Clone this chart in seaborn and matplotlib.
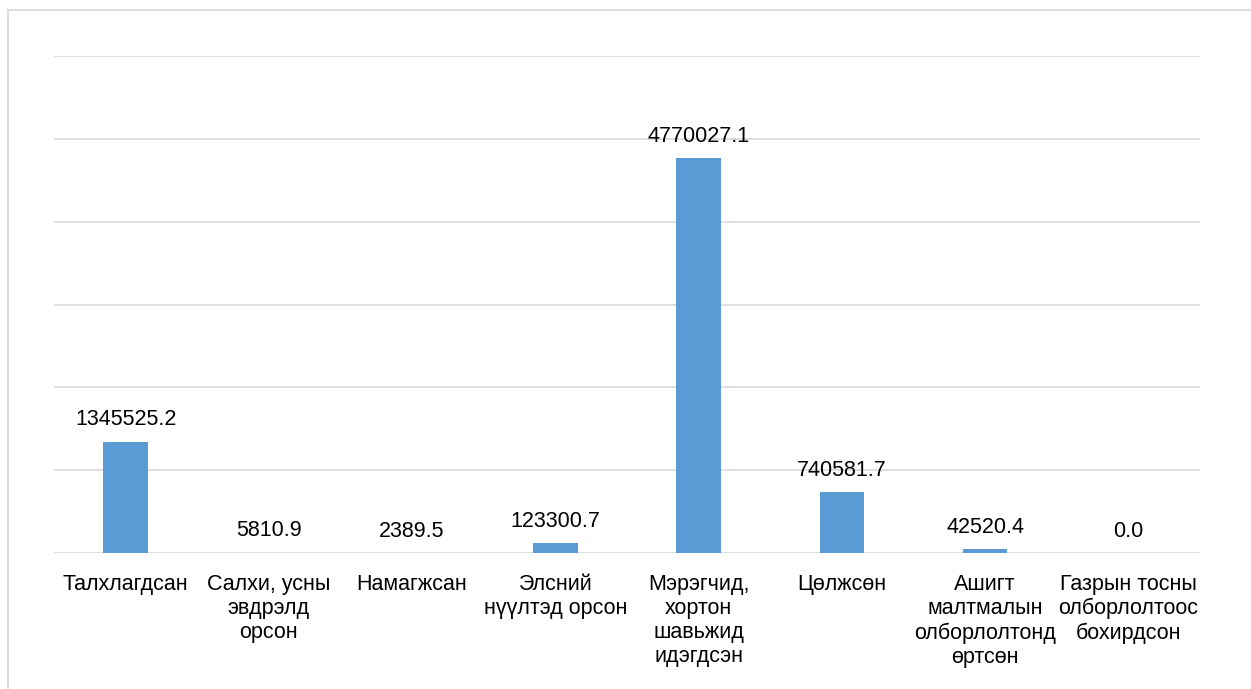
import matplotlib
matplotlib.use("Agg")
import matplotlib.pyplot as plt
import numpy as np
import pandas as pd
import seaborn as sns
from matplotlib.patches import Rectangle

# land degradation area by type (ha)
categories = [
    "Талхлагдсан",
    "Салхи, усны\nэвдрэлд\nорсон",
    "Намагжсан",
    "Элсний\nнүүлтэд орсон",
    "Мэрэгчид,\nхортон\nшавьжид\nидэгдсэн",
    "Цөлжсөн",
    "Ашигт\nмалтмалын\nолборлолтонд\nөртсөн",
    "Газрын тосны\nолборлолтоос\nбохирдсон",
]
values = [1345525.2, 5810.9, 2389.5, 123300.7, 4770027.1, 740581.7, 42520.4, 0.0]
y_ticks = [0, 1000000, 2000000, 3000000, 4000000, 5000000, 6000000]

BAR_COLOR = "#5B9BD5"
GRID_COLOR = "#D9D9D9"
FONT_SIZE = 15.5

sns.set_theme(style="white")
plt.rcParams["font.family"] = ["Liberation Sans", "DejaVu Sans"]

df = pd.DataFrame({"category": categories, "value": values})

fig = plt.figure(figsize=(12.51, 6.89), dpi=100)
ax = fig.add_axes([54 / 1251, 1 - 553 / 689, (1200 - 54) / 1251, (553 - 56) / 689])

sns.barplot(data=df, x="category", y="value", color=BAR_COLOR, width=0.31,
            saturation=1, linewidth=0, ax=ax, zorder=3)

ax.set_ylim(0, 6000000)
ax.set_xlim(-0.5, len(categories) - 0.5)
ax.set_yticks(y_ticks)
ax.yaxis.grid(True, color=GRID_COLOR, linewidth=1.2, zorder=0)
ax.set_axisbelow(True)
ax.tick_params(axis="y", left=False, labelleft=False)
ax.tick_params(axis="x", bottom=False, pad=9, labelsize=FONT_SIZE)
for lbl in ax.get_xticklabels():
    lbl.set_linespacing(1.2)
    lbl.set_color("#000000")
ax.set_xlabel("")
ax.set_ylabel("")
sns.despine(ax=ax, left=True, bottom=True, top=True, right=True)

ax.bar_label(ax.containers[0], fmt="%.1f", padding=8, fontsize=FONT_SIZE, color="#000000")

# outer chart frame
fig.patches.append(Rectangle((8 / 1251, -0.1), 1.2, 1 - 10 / 689 + 0.1,
                             transform=fig.transFigure, fill=False,
                             edgecolor=GRID_COLOR, linewidth=1.3))

fig.savefig("out.png", dpi=100, facecolor="white")
